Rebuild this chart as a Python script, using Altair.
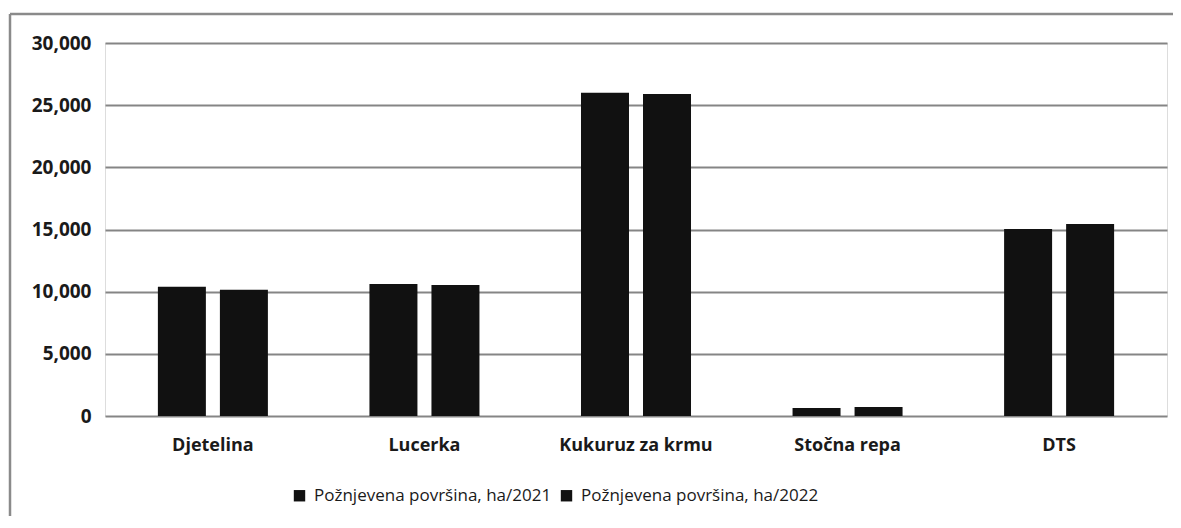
import altair as alt
import pandas as pd

categories = ["Djetelina", "Lucerka", "Kukuruz za krmu", "Stočna repa", "DTS"]
series = ["Požnjevena površina, ha/2021", "Požnjevena površina, ha/2022"]
values_2021 = [10400, 10620, 26000, 640, 15040]
values_2022 = [10150, 10540, 25900, 720, 15440]
y_ticks = [0, 5000, 10000, 15000, 20000, 25000, 30000]

rows = []
for c, a, b in zip(categories, values_2021, values_2022):
    rows.append({"cat": c, "series": series[0], "value": a})
    rows.append({"cat": c, "series": series[1], "value": b})
df = pd.DataFrame(rows)

W, H = 1062, 373
FONT = "Open Sans"
one = pd.DataFrame({"a": [0]})

frame_top = alt.Chart(one).mark_rule(color="#8a8a8a", strokeWidth=2.5, clip=False).encode(
    x=alt.value(-95), x2=alt.value(W + 6), y=alt.value(-29)
)
frame_left = alt.Chart(one).mark_rule(color="#8a8a8a", strokeWidth=2.5, clip=False).encode(
    x=alt.value(-95), y=alt.value(-29), y2=alt.value(H + 100)
)

bars = alt.Chart(df).mark_bar(color="#111111").encode(
    x=alt.X("cat:N", sort=categories, title=None,
            scale=alt.Scale(paddingInner=0.48, paddingOuter=0.25),
            axis=alt.Axis(labelAngle=0, labelFont=FONT, labelFontSize=18,
                          labelFontWeight="bold", labelColor="#1a1a1a",
                          labelPadding=20, domain=False, ticks=False, grid=False)),
    xOffset=alt.XOffset("series:N", sort=series,
                        scale=alt.Scale(paddingInner=0.226, paddingOuter=0)),
    y=alt.Y("value:Q", title=None,
            scale=alt.Scale(domain=[0, 30000], nice=False),
            axis=alt.Axis(values=y_ticks, format=",d", labelFont=FONT,
                          labelFontSize=19, labelFontWeight="bold",
                          labelColor="#1a1a1a", labelPadding=14,
                          domain=False, ticks=False, grid=True,
                          gridColor="#858585", gridWidth=1.8)),
    color=alt.Color("series:N", sort=series,
                    scale=alt.Scale(domain=series, range=["#111111", "#111111"]),
                    legend=alt.Legend(title=None, orient="none", direction="horizontal",
                                      legendX=186, legendY=444,
                                      symbolType="square", symbolSize=130,
                                      symbolStrokeWidth=0, labelFont=FONT,
                                      labelFontSize=17, labelColor="#1a1a1a",
                                      labelFontWeight=500, labelLimit=600,
                                      columnPadding=6, labelOffset=6)),
)

chart = alt.layer(frame_top, frame_left, bars).properties(
    width=W, height=H,
    autosize=alt.AutoSizeParams(type="none"),
    padding={"left": 97, "top": 35, "right": 6, "bottom": 100},
).configure_view(stroke=None).configure(background="white")

chart.save("out.html", embed_options={"renderer": "svg", "actions": False})
